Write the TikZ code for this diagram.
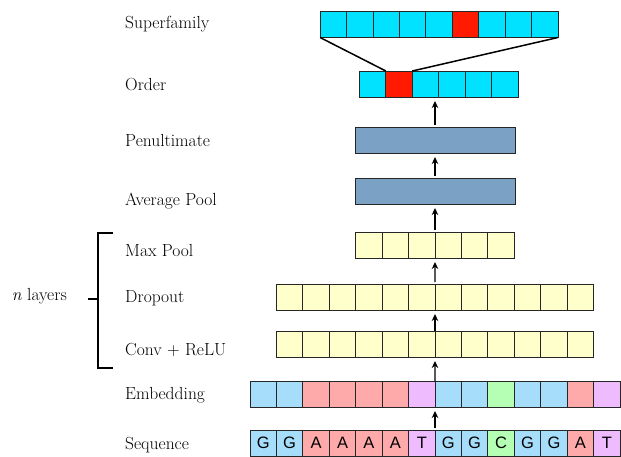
\documentclass[tikz,border=0pt]{standalone}
\usepackage{fontspec}
\newfontfamily\seqfont{Liberation Sans}
\usetikzlibrary{arrows.meta}
\definecolor{cyanc}{RGB}{0,226,255}
\definecolor{redc}{RGB}{255,26,0}
\definecolor{yelc}{RGB}{255,255,204}
\definecolor{steelc}{RGB}{123,161,196}
\definecolor{gblue}{RGB}{166,221,250}
\definecolor{apink}{RGB}{255,170,170}
\definecolor{tpurp}{RGB}{238,187,255}
\definecolor{cgreen}{RGB}{180,255,180}
\begin{document}
\begin{tikzpicture}[x=1pt,y=-1pt,
  cell/.style={draw=black!85, line width=0.8pt, minimum width=26.43pt, minimum height=26pt, inner sep=0pt, outer sep=0pt, anchor=west},
  bar/.style={draw=black!85, line width=0.8pt, fill=steelc, minimum width=160pt, minimum height=26pt, inner sep=0pt, outer sep=0pt},
  lbl/.style={anchor=base west, font=\fontsize{17.5}{21}\selectfont, inner sep=0pt},
  arr/.style={-{Stealth[length=7pt,width=6.5pt]}, line width=1.4pt, shorten <=2pt, shorten >=4pt},
  conn/.style={line width=1.5pt}]
\useasboundingbox (0,0) rectangle (621,456);

% labels
\node[lbl] (l-sup) at (125,28.5) {Superfamily};
\node[lbl] (l-ord) at (125,90) {Order};
\node[lbl] (l-pen) at (125,146) {Penultimate};
\node[lbl] (l-avg) at (125,205) {Average Pool};
\node[lbl] (l-max) at (125,256.5) {Max Pool};
\node[lbl] (l-drop) at (125,302) {Dropout};
\node[lbl] (l-conv) at (125,355) {Conv + ReLU};
\node[lbl] (l-emb) at (125,399) {Embedding};
\node[lbl] (l-seq) at (125,449) {Sequence};
\node[anchor=base east, font=\fontsize{17.5}{21}\selectfont, inner sep=0pt] (nl) at (67,300.5) {\textit{n} layers};

% bracket
\draw[line width=1.8pt] (113,233) -- (98,233) -- (98,368) -- (113,368);
\draw[line width=1.8pt] (98,299) -- (88,299);

% superfamily
\foreach \c [count=\i] in {cyanc,cyanc,cyanc,cyanc,cyanc,redc,cyanc,cyanc,cyanc}
  \node[cell, fill=\c] (sup-\i) at ({320.1+(\i-1)*26.43},24.5) {};
% order
\foreach \c [count=\i] in {cyanc,redc,cyanc,cyanc,cyanc,cyanc}
  \node[cell, fill=\c] (ord-\i) at ({359.4+(\i-1)*26.43},84) {};
\draw[conn] (sup-1.south west) -- (ord-2.north west);
\draw[conn] (sup-9.south east) -- (ord-2.north east);

% penultimate and average pool
\node[bar] (pen) at (435.5,140) {};
\node[bar] (avg) at (435.5,191) {};

% max pool
\foreach \i in {1,...,6}
  \node[cell, fill=yelc] (max-\i) at ({355.7+(\i-1)*26.43},245) {};
% dropout
\foreach \i in {1,...,12}
  \node[cell, fill=yelc] (drop-\i) at ({276.4+(\i-1)*26.43},297) {};
% conv
\foreach \i in {1,...,12}
  \node[cell, fill=yelc] (conv-\i) at ({276.4+(\i-1)*26.43},344) {};
% embedding
\foreach \c [count=\i] in {gblue,gblue,apink,apink,apink,apink,tpurp,gblue,gblue,cgreen,gblue,gblue,apink,tpurp}
  \node[cell, fill=\c] (emb-\i) at ({250+(\i-1)*26.43},394) {};
% sequence
\foreach \c/\t [count=\i] in {gblue/G,gblue/G,apink/A,apink/A,apink/A,apink/A,tpurp/T,gblue/G,gblue/G,cgreen/C,gblue/G,gblue/G,apink/A,tpurp/T}
  \node[cell, fill=\c, font=\seqfont\fontsize{16.5}{20}\selectfont] (seq-\i) at ({250+(\i-1)*26.43},443) {\t};

% arrows
\draw[arr] (seq-7.north east) -- (emb-7.south east);
\draw[arr, shorten <=0pt] (emb-7.north east) -- (conv-6.south east);
\draw[arr, shorten <=0pt] (conv-6.north east) -- (drop-6.south east);
\draw[arr] (drop-6.north east) -- (max-3.south east);
\draw[arr] (max-3.north east) -- (max-3.north east |- avg.south);
\draw[arr] (avg.north -| max-3.north east) -- (max-3.north east |- pen.south);
\draw[arr] (pen.north -| max-3.north east) -- (max-3.north east |- ord-3.south);
\end{tikzpicture}
\end{document}
